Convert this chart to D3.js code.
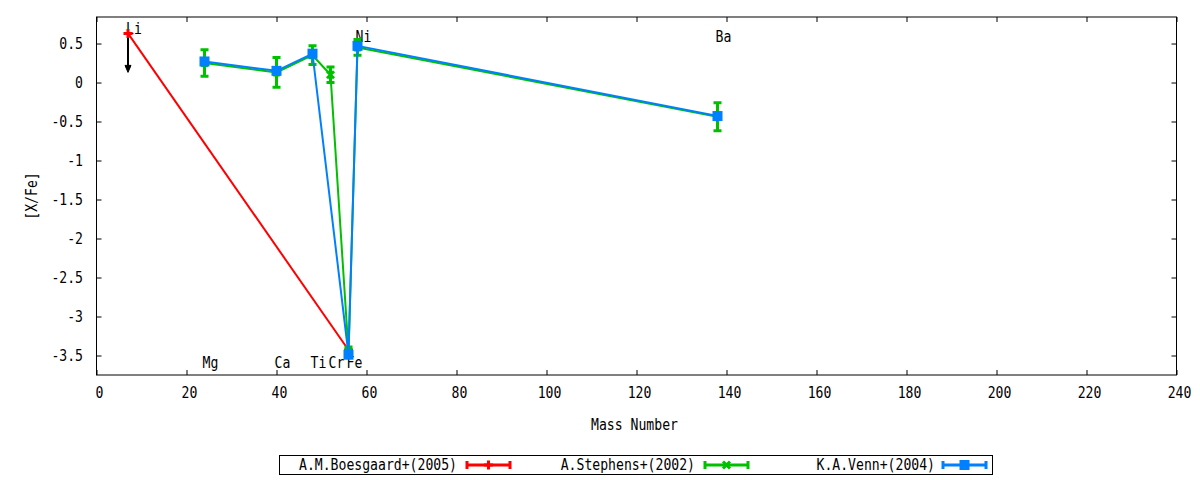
<!DOCTYPE html>
<html><head><meta charset="utf-8">
<script src="https://cdn.jsdelivr.net/npm/d3@7"></script>
<style>
html,body{margin:0;padding:0;background:#fff;}
text{font-family:"DejaVu Sans Mono",monospace;font-size:15px;fill:#000;}
</style></head>
<body><svg id="c" width="1200" height="480"></svg>
<script>
// ---- data ----
const xTicks = [0,20,40,60,80,100,120,140,160,180,200,220,240];
const yTicks = [0.5,0,-0.5,-1,-1.5,-2,-2.5,-3,-3.5];
const yTickLabels = ["0.5","0","-0.5","-1","-1.5","-2","-2.5","-3","-3.5"];

const seriesNames = ["A.M.Boesgaard+(2005)","A.Stephens+(2002)","K.A.Venn+(2004)"];
const seriesColors = ["#ff0000","#00c000","#0080ff"];

const boesgaardMass = [7,56];
const boesgaardVal  = [0.63,-3.43];

const stephensMass = [24,40,48,52,56,58,138];
const stephensVal  = [0.25,0.13,0.35,0.10,-3.45,0.45,-0.44];
const stephensErr  = [0.17,0.19,0.12,0.10,0.06,0.10,0.18];

const vennMass = [24,40,48,56,58,138];
const vennVal  = [0.27,0.15,0.37,-3.49,0.47,-0.43];

const liLimitTo = 0.13;   // upper-limit arrow end for Li

const elemNames = ["Li","Mg","Ca","Ti","Cr","Fe","Ni","Ba"];
const elemMass  = [7,24,40,48,52,56,58,138];
const elemY     = [0.69,-3.6,-3.6,-3.6,-3.6,-3.6,0.58,0.58];

// ---- layout ----
const L=96.5, R=1176.5, T=17, B=375;
const svg = d3.select("#c");
const x = d3.scaleLinear().domain([0,240]).range([L,R]);
const y = d3.scaleLinear().domain([-3.75,0.84]).range([B,T]);
const CW = 7.9;
function txt(g, s){ return g.text(s).attr("textLength", s.length*CW).attr("lengthAdjust","spacingAndGlyphs"); }

// frame
svg.append("rect").attr("x",L).attr("y",T).attr("width",R-L).attr("height",B-T)
  .attr("fill","none").attr("stroke","#000").attr("stroke-width",1);

// axes with inward ticks (mirrored)
function styleAxis(g){ g.select(".domain").remove(); g.selectAll(".tick line").attr("stroke","#000"); g.selectAll(".tick text").remove(); }
svg.append("g").attr("transform",`translate(0,${B})`).call(d3.axisBottom(x).tickValues(xTicks).tickSize(-5)).call(styleAxis);
svg.append("g").attr("transform",`translate(0,${T})`).call(d3.axisTop(x).tickValues(xTicks).tickSize(-5)).call(styleAxis);
svg.append("g").attr("transform",`translate(${L},0)`).call(d3.axisLeft(y).tickValues(yTicks).tickSize(-5)).call(styleAxis);
svg.append("g").attr("transform",`translate(${R},0)`).call(d3.axisRight(y).tickValues(yTicks).tickSize(-5)).call(styleAxis);

// tick labels
xTicks.forEach(v=>{ txt(svg.append("text").attr("x",x(v)+3).attr("y",398).attr("text-anchor","middle"), String(v)); });
yTicks.forEach((v,i)=>{ txt(svg.append("text").attr("x",83).attr("y",y(v)+5).attr("text-anchor","end"), yTickLabels[i]); });

// axis titles
txt(svg.append("text").attr("x",(L+R)/2-2).attr("y",430).attr("text-anchor","middle"),"Mass Number");
txt(svg.append("text").attr("transform",`translate(37,${(T+B)/2}) rotate(-90)`).attr("text-anchor","middle"),"[X/Fe]");

// element labels
elemNames.forEach((n,i)=>{ txt(svg.append("text").attr("x",x(elemMass[i])-2).attr("y",y(elemY[i])+5),n); });

const line = d3.line().x(d=>x(d[0])).y(d=>y(d[1]));
const plot = svg.append("g");

// markers
function plus(g,cx,cy,col){ g.append("path").attr("d",`M${cx-4.5},${cy}H${cx+4.5}M${cx},${cy-4.5}V${cy+4.5}`).attr("stroke",col).attr("stroke-width",3).attr("fill","none"); }
function cross(g,cx,cy,col){ g.append("path").attr("d",`M${cx-3.5},${cy-3.5}L${cx+3.5},${cy+3.5}M${cx-3.5},${cy+3.5}L${cx+3.5},${cy-3.5}`).attr("stroke",col).attr("stroke-width",3).attr("fill","none"); }
function square(g,cx,cy,col){ g.append("rect").attr("x",cx-5).attr("y",cy-5).attr("width",10).attr("height",10).attr("fill",col); }
function errbar(g,cx,ylo,yhi,col){
  g.append("path").attr("d",`M${cx},${ylo}V${yhi}M${cx-4},${ylo}H${cx+4}M${cx-4},${yhi}H${cx+4}`).attr("stroke",col).attr("stroke-width",3).attr("fill","none");
}

// red series
const red = boesgaardMass.map((m,i)=>[m,boesgaardVal[i]]);
plot.append("path").attr("d",line(red)).attr("fill","none").attr("stroke",seriesColors[0]).attr("stroke-width",2);
// Li upper-limit arrow
const ax = x(boesgaardMass[0]), ay0=y(boesgaardVal[0]), ay1=y(liLimitTo);
plot.append("path").attr("d",`M${ax},${ay0}V${ay1-6}`).attr("stroke","#000").attr("stroke-width",2);
plot.append("path").attr("d",`M${ax-3},${ay1-7}L${ax+3},${ay1-7}L${ax},${ay1}Z`).attr("fill","#000").attr("stroke","#000").attr("stroke-width",1);
red.forEach(d=>plus(plot,x(d[0]),y(d[1]),seriesColors[0]));

// green series
const green = stephensMass.map((m,i)=>[m,stephensVal[i],stephensErr[i]]);
plot.append("path").attr("d",line(green)).attr("fill","none").attr("stroke",seriesColors[1]).attr("stroke-width",2);
green.forEach(d=>{ errbar(plot,x(d[0]),y(d[1]-d[2]),y(d[1]+d[2]),seriesColors[1]); cross(plot,x(d[0]),y(d[1]),seriesColors[1]); });

// blue series
const blue = vennMass.map((m,i)=>[m,vennVal[i]]);
plot.append("path").attr("d",line(blue)).attr("fill","none").attr("stroke",seriesColors[2]).attr("stroke-width",2);
blue.forEach(d=>square(plot,x(d[0]),y(d[1]),seriesColors[2]));

// legend
svg.append("rect").attr("x",279.5).attr("y",455.5).attr("width",713).attr("height",19).attr("fill","none").attr("stroke","#000");
const legTextEnd = [457,695,935];
const legSampleStart = [467,705,943];
seriesNames.forEach((n,i)=>{
  txt(svg.append("text").attr("x",legTextEnd[i]).attr("y",470).attr("text-anchor","end"),n);
  const s=legSampleStart[i], e=s+43, cy=465, col=seriesColors[i];
  svg.append("path").attr("d",`M${s},${cy}H${e}M${s},${cy-4}V${cy+4}M${e},${cy-4}V${cy+4}`).attr("stroke",col).attr("stroke-width",3).attr("fill","none");
  const mx=(s+e)/2;
  if(i===0) plus(svg,mx,cy,col); else if(i===1) cross(svg,mx,cy,col); else square(svg,mx,cy,col);
});
</script></body></html>
